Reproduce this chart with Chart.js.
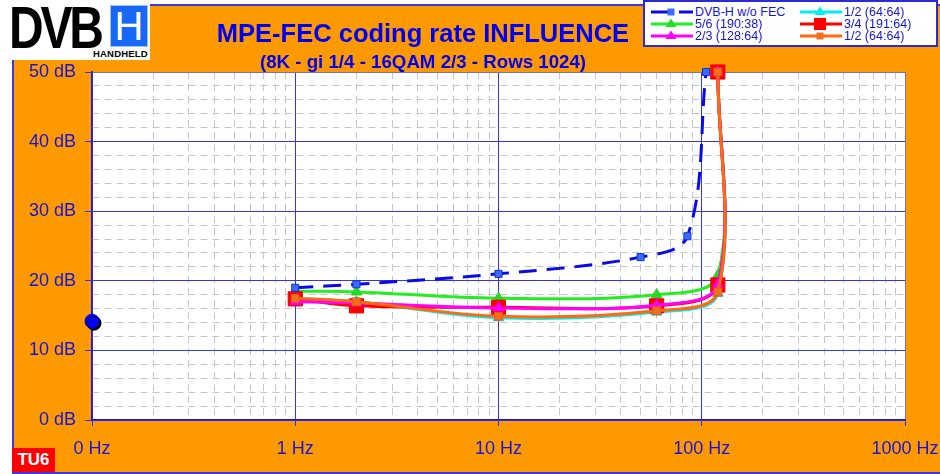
<!DOCTYPE html>
<html>
<head>
<meta charset="utf-8">
<script src="https://cdn.jsdelivr.net/npm/chart.js@4.4.1/dist/chart.umd.min.js"></script>
<style>
  html, body { margin: 0; padding: 0; background: #fff; }
  body { width: 940px; height: 474px; position: relative; overflow: hidden; font-family: 'Liberation Sans', Arial, sans-serif; }
  #frame { position: absolute; left: 12px; top: 4px; width: 926px; height: 466px; background: #ff9900;
           border-left: 2px solid #3a3ae0; border-top: 2px solid #3a3ae0; border-bottom: 2px solid #3a3ae0; }
  #chart { position: absolute; left: 0; top: 0; }
  #logo { position: absolute; left: 0; top: 0; width: 150px; height: 60px; background: #fff; overflow: hidden; }
  #logo .dvb { position: absolute; left: 9px; top: -7px; font-weight: bold; font-size: 60px; letter-spacing: -4px;
               transform: scaleX(0.8); transform-origin: left top; color: #000; }
  #logo .hbox { position: absolute; left: 110px; top: 5px; width: 36px; height: 40px; background: #1769f5;
                border: 1px solid #9cc0ff; color: #fff; font-size: 40px; line-height: 40px; text-align: center; }
  #logo .hh { position: absolute; left: 93px; top: 48px; font-size: 9.5px; font-weight: bold; color: #000; letter-spacing: 0.2px; }
  .title { position: absolute; left: 123px; width: 600px; text-align: center; color: #0000ee; font-weight: bold; }
  #t1 { top: 20px; font-size: 25.5px; line-height: 26px; }
  #t2 { top: 53px; font-size: 18.7px; line-height: 18px; }
  #legend { position: absolute; left: 643px; top: 0; width: 291px; height: 43px; background: #fff; border: 2px solid #2a2ad8; }
  .item { position: absolute; height: 12px; display: flex; align-items: center; color: #1414e0; font-size: 12.5px; white-space: nowrap; }
  .item canvas { margin-right: 2px; }
  #tu6 { position: absolute; left: 12px; top: 448px; width: 43px; height: 24px; background: #ff0000; color: #fff;
         font-weight: bold; font-size: 17px; line-height: 24px; text-align: center; }
</style>
</head>
<body>
<div id="frame"></div>
<canvas id="chart" width="940" height="474"></canvas>
<div id="logo"><div class="dvb">DVB</div><div class="hbox">H</div><div class="hh">HANDHELD</div></div>
<div class="title" id="t1">MPE-FEC coding rate INFLUENCE</div>
<div class="title" id="t2">(8K - gi 1/4 - 16QAM 2/3 - Rows 1024)</div>
<div id="legend"></div>
<div id="tu6">TU6</div>
<script>
// Doppler frequency (Hz) / required C/N (dB)
const freqNoFec = [1, 2, 10, 50, 85, 105]
const dbNoFec = [19.0, 19.5, 21.0, 23.4, 26.4, 50]
const freqFec = [1, 2, 10, 60, 120, 120]
const dbHalfCyan = [17.5, 17.0, 14.7, 15.5, 18.2, 50]
const dbFiveSixths = [18.5, 18.4, 17.5, 18.0, 20.8, 50]
const dbThreeQuarters = [17.4, 16.4, 16.2, 16.4, 19.4, 50]
const dbTwoThirds = [17.0, 16.8, 16.1, 16.5, 19.5, 50]
const dbHalfOrange = [17.5, 17.0, 14.9, 15.7, 18.4, 50]
const freqStart = [0.1]
const dbStart = [14.2]

const xMajor = [0.1, 1, 10, 100, 1000]
const xLabels = ['0 Hz', '1 Hz', '10 Hz', '100 Hz', '1000 Hz']
const yLabelStep = 10

const textBlue = '#1414e0'
const gridBlue = '#3434f2'
const edgeColor = '#7474b8'
const minorGrey = '#c6c6c6'
const fontFam = "'Liberation Sans', Arial, sans-serif"

const series = [
    {label: 'DVB-H w/o FEC', xs: freqNoFec, ys: dbNoFec, color: '#0a0ae6', dash: [18, 10], point: 'rect', r: 5, fill: '#3a6cff', border: '#1030d0', order: 1},
    {label: '1/2 (64:64)', xs: freqFec, ys: dbHalfCyan, color: '#00eeee', point: 'triangle', r: 6, fill: '#00eeee', border: '#00d0d0', order: 6},
    {label: '5/6 (190:38)', xs: freqFec, ys: dbFiveSixths, color: '#22ee22', point: 'triangle', r: 6, fill: '#22dd22', border: '#22cc22', order: 5},
    {label: '3/4 (191:64)', xs: freqFec, ys: dbThreeQuarters, color: '#ff0000', point: 'rect', r: 10, fill: '#ff0000', border: '#ee0000', order: 4},
    {label: '2/3 (128:64)', xs: freqFec, ys: dbTwoThirds, color: '#ff00ff', point: 'triangle', r: 6, fill: '#ff00ff', border: '#ee00ee', order: 3},
    {label: '1/2 (64:64)', xs: freqFec, ys: dbHalfOrange, color: '#ff6a10', point: 'rect', r: 5.5, fill: '#f07020', border: '#e06010', order: 2},
]

const toPoints = (xs, ys) => xs.map((x, i) => ({x: x, y: ys[i]}))

const datasets = series.map(s => ({
    label: s.label,
    data: toPoints(s.xs, s.ys),
    borderColor: s.color,
    borderWidth: 3,
    borderDash: s.dash || [],
    tension: 0.35,
    pointStyle: s.point,
    pointRadius: s.r,
    pointBackgroundColor: s.fill,
    pointBorderColor: s.border,
    pointBorderWidth: 1,
    order: s.order,
    clip: false,
}))
datasets.push({
    label: 'start',
    data: toPoints(freqStart, dbStart),
    showLine: false,
    pointRadius: 7,
    pointBackgroundColor: '#0000ff',
    pointBorderColor: '#0000cc',
    order: 0,
    clip: false,
    shadow: true,
})

// log grid: 1..9 per decade
const xGrid = []
for (let e = -1; e < 3; e++) {
    for (let m = 1; m < 10; m++) xGrid.push(+(m * Math.pow(10, e)).toFixed(3))
}
xGrid.push(1000)
const isMajorX = v => xMajor.includes(v)
const isMajorY = v => v % yLabelStep === 0

const plotBg = {
    id: 'plotBg',
    beforeDraw(chart) {
        const {ctx, chartArea: a} = chart
        ctx.save()
        ctx.fillStyle = '#ffffff'
        ctx.fillRect(a.left, a.top, a.right - a.left, a.bottom - a.top)
        ctx.restore()
    }
}
const dotShadow = {
    id: 'dotShadow',
    beforeDatasetDraw(chart, args) {
        if (!chart.data.datasets[args.index].shadow) return
        const ctx = chart.ctx
        ctx.save()
        ctx.shadowColor = '#000'
        ctx.shadowOffsetX = 2
        ctx.shadowOffsetY = 2
        ctx.shadowBlur = 0
    },
    afterDatasetDraw(chart, args) {
        if (chart.data.datasets[args.index].shadow) chart.ctx.restore()
    }
}

new Chart(document.getElementById('chart'), {
    type: 'line',
    data: {datasets: datasets},
    plugins: [plotBg, dotShadow],
    options: {
        responsive: false,
        animation: false,
        devicePixelRatio: 1,
        layout: {padding: {top: 72, right: 35, left: 0, bottom: 0}},
        plugins: {legend: {display: false}, tooltip: {enabled: false}},
        scales: {
            x: {
                type: 'logarithmic',
                min: 0.1,
                max: 1000,
                afterBuildTicks: s => { s.ticks = xGrid.map(v => ({value: v})) },
                afterFit: s => {
                    s.height = 54
                    s.paddingLeft = 0
                    s.paddingRight = 0
                },
                ticks: {
                    autoSkip: false,
                    maxRotation: 0,
                    padding: 12,
                    color: textBlue,
                    font: {family: fontFam, size: 18},
                    callback: v => isMajorX(v) ? xLabels[xMajor.indexOf(v)] : '',
                },
                grid: {
                    lineWidth: 1,
                    tickLength: 6,
                    color: c => !c.tick ? gridBlue : c.tick.value === 1000 ? edgeColor : isMajorX(c.tick.value) ? gridBlue : minorGrey,
                    tickColor: c => c.tick && isMajorX(c.tick.value) ? gridBlue : 'rgba(0,0,0,0)',
                },
                border: {
                    color: '#1a1ae8',
                    width: 1.5,
                    dash: c => (c.tick && !isMajorX(c.tick.value)) ? [7, 5] : [],
                },
            },
            y: {
                min: 0,
                max: 50,
                afterFit: s => { s.width = 92 },
                ticks: {
                    stepSize: 2,
                    autoSkip: false,
                    padding: 9,
                    color: textBlue,
                    font: {family: fontFam, size: 18},
                    callback: v => isMajorY(v) ? v + ' dB' : '',
                },
                grid: {
                    lineWidth: 1,
                    tickLength: 7,
                    color: c => !c.tick ? gridBlue : c.tick.value === 50 ? edgeColor : isMajorY(c.tick.value) ? gridBlue : minorGrey,
                    tickColor: c => c.tick && isMajorY(c.tick.value) ? gridBlue : 'rgba(0,0,0,0)',
                },
                border: {
                    color: '#1a1ae8',
                    width: 1.5,
                    dash: c => (c.tick && !isMajorY(c.tick.value)) ? [7, 5] : [],
                },
            },
        },
    },
})

// legend, two columns
const legend = document.getElementById('legend')
const colLeft = [6, 155]
const rowTop = [4, 16, 28]
series.forEach((s, i) => {
    const item = document.createElement('div')
    item.className = 'item'
    item.style.left = colLeft[i % 2] + 'px'
    item.style.top = rowTop[Math.floor(i / 2)] + 'px'
    const cv = document.createElement('canvas')
    cv.width = 42
    cv.height = 12
    const ctx = cv.getContext('2d')
    ctx.strokeStyle = s.color
    ctx.lineWidth = 3
    ctx.setLineDash(s.dash ? [20, 8] : [])
    ctx.beginPath()
    ctx.moveTo(0, 6)
    ctx.lineTo(42, 6)
    ctx.stroke()
    ctx.setLineDash([])
    ctx.fillStyle = s.fill
    const cx = 20
    if (s.point === 'rect') {
        const h = s.r > 8 ? 6 : 3.5
        ctx.fillRect(cx - h, 6 - h, 2 * h, 2 * h)
    } else {
        ctx.beginPath()
        ctx.moveTo(cx, 0.5)
        ctx.lineTo(cx + 5.5, 9)
        ctx.lineTo(cx - 5.5, 9)
        ctx.closePath()
        ctx.fill()
    }
    item.appendChild(cv)
    const span = document.createElement('span')
    span.textContent = s.label
    item.appendChild(span)
    legend.appendChild(item)
})
</script>
</body>
</html>
